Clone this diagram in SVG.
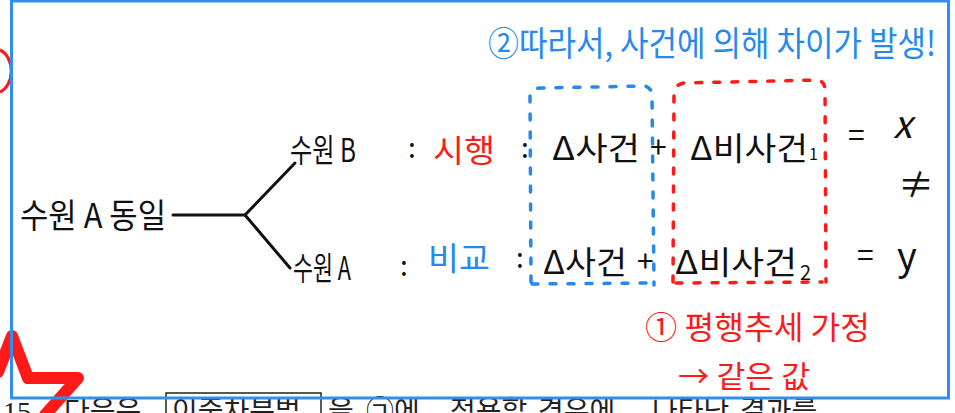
<svg xmlns="http://www.w3.org/2000/svg" width="955" height="413" viewBox="0 0 955 413">
<style>
.h{font-family:"Noto Sans CJK KR","Noto Sans",sans-serif;font-weight:400}
.k{fill:#111}
.r{fill:#ff1a1a}
.b{fill:#2589ee}
.ser{font-family:"Liberation Serif","Noto Sans CJK KR",serif;fill:#222}
.ln{fill:none;stroke:#111;stroke-width:3;stroke-linecap:round;stroke-linejoin:round}
.db{fill:none;stroke:#2589ee;stroke-width:3.5;stroke-linecap:round;stroke-dasharray:6 12}
.dr{fill:none;stroke:#ff1a1a;stroke-width:3.5;stroke-linecap:round;stroke-dasharray:6 12}
</style>
<rect width="955" height="413" fill="#fff"/>
<g id="bottom-question">
<text class="ser" font-size="28" y="421"><tspan x="3">15</tspan><tspan x="64">다음은</tspan><tspan x="172">이중차분법</tspan><tspan x="328">을</tspan><tspan x="366">㉠에</tspan><tspan x="450">적용할</tspan><tspan x="538">경우에</tspan><tspan x="652">나타난</tspan><tspan x="740">결과를</tspan></text>
<rect x="166" y="393" width="155" height="30" fill="none" stroke="#222" stroke-width="1.5"/>
</g>
<g id="marks">
<path d="M0,50 A16,22 0 0 1 0,92" fill="none" stroke="#ff1a1a" stroke-width="3"/>
<polyline points="-2,372 12,336 28,378 78,378 45,415" fill="none" stroke="#ff1a1a" stroke-width="12" stroke-linejoin="round" stroke-linecap="round"/>
</g>
<rect id="frame" x="11.5" y="1" width="937" height="397" fill="none" stroke="#2f8ff0" stroke-width="3"/>
<g id="connectors">
<polyline class="ln" points="173,215 245,215 295,163"/>
<polyline class="ln" points="245,215 290,268"/>
</g>
<g id="node-root">
<text class="h k" x="20" y="228" font-size="34" textLength="146" lengthAdjust="spacingAndGlyphs">수원 A 동일</text>
</g>
<g id="node-b">
<text class="h k" x="290" y="162" font-size="32" textLength="66" lengthAdjust="spacingAndGlyphs">수원 B</text>
<text class="h k" x="408" y="158" font-size="28">:</text>
<text class="h r" x="433" y="162" font-size="32" textLength="62" lengthAdjust="spacingAndGlyphs">시행</text>
<text class="h k" x="521" y="158" font-size="28">:</text>
<text class="h k" x="552" y="160" font-size="32" textLength="88" lengthAdjust="spacingAndGlyphs">Δ사건</text>
<text class="h k" x="650" y="158" font-size="30">+</text>
<text class="h k" x="690" y="160" font-size="32" textLength="118" lengthAdjust="spacingAndGlyphs">Δ비사건</text>
<text class="h k" x="809" y="160" font-size="16">1</text>
<text class="h k" x="848" y="146" font-size="30">=</text>
<text class="h k" x="893" y="138" font-size="38" font-style="italic">x</text>
</g>
<g id="neq">
<text class="h k" x="898" y="198" font-size="36">≠</text>
</g>
<g id="node-a">
<text class="h k" x="293" y="280" font-size="32" textLength="58" lengthAdjust="spacingAndGlyphs">수원 A</text>
<text class="h k" x="400" y="276" font-size="28">:</text>
<text class="h b" x="428" y="270" font-size="32" textLength="62" lengthAdjust="spacingAndGlyphs">비교</text>
<text class="h k" x="516" y="268" font-size="28">:</text>
<text class="h k" x="543" y="274" font-size="32" textLength="84" lengthAdjust="spacingAndGlyphs">Δ사건</text>
<text class="h k" x="637" y="272" font-size="30">+</text>
<text class="h k" x="675" y="274" font-size="32" textLength="122" lengthAdjust="spacingAndGlyphs">Δ비사건</text>
<text class="h k" x="800" y="280" font-size="20">2</text>
<text class="h k" x="857" y="266" font-size="30">=</text>
<text class="h k" x="897" y="270" font-size="38">y</text>
</g>
<g id="box-event">
<path class="db" d="M531,282 L530,95 Q532,88 540,88 L645,86 Q652,88 652,96 L654,285"/>
<path class="db" d="M532,284 L650,283"/>
</g>
<g id="box-nonevent">
<path class="dr" d="M673,282 L674,92 Q676,84 684,83 L818,80 Q825,82 825,90 L826,282"/>
<path class="dr" d="M676,283 L822,282"/>
</g>
<g id="note-2">
<text class="h b" x="488" y="56" font-size="34" textLength="448" lengthAdjust="spacingAndGlyphs">②따라서, 사건에 의해 차이가 발생!</text>
</g>
<g id="note-1">
<text class="h r" x="645" y="339" font-size="32" textLength="225" lengthAdjust="spacingAndGlyphs">① 평행추세 가정</text>
<text class="h r" x="678" y="387" font-size="30" textLength="132" lengthAdjust="spacingAndGlyphs">→ 같은 값</text>
</g>
</svg>
